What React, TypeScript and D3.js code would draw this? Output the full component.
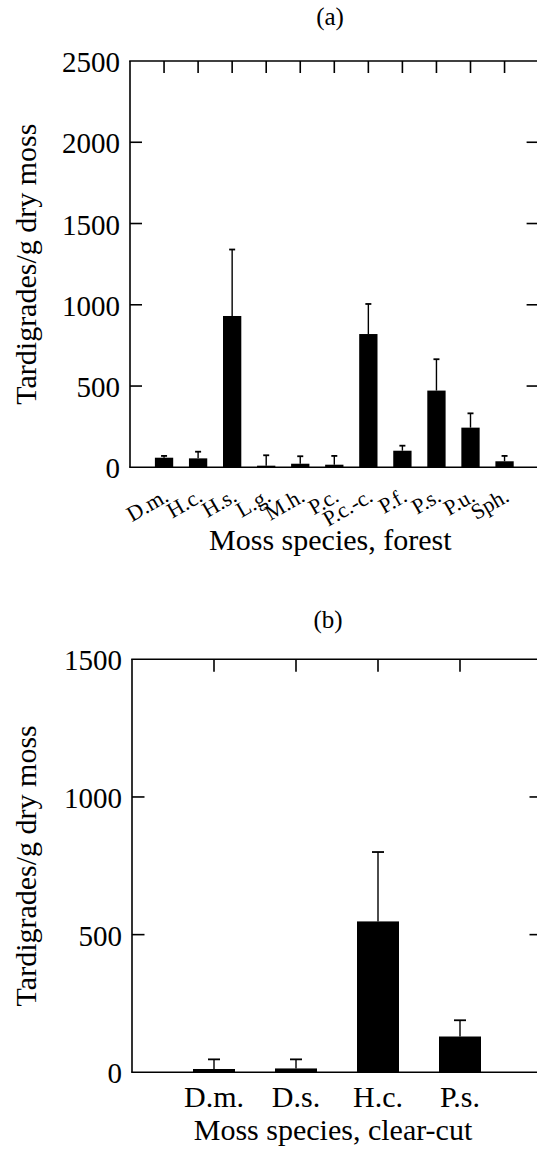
import React from "react";
import * as d3 from "d3";

const forestSpecies = ["D.m.", "H.c.", "H.s.", "L.g.", "M.h.", "P.c.", "P.c.-c.", "P.f.", "P.s.", "P.u.", "Sph."];
const forestMean = [59, 55, 931, 10, 22, 16, 820, 102, 472, 244, 37];
const forestUpper = [70, 96, 1340, 74, 68, 70, 1005, 133, 665, 332, 70];
const forestTicks = [0, 500, 1000, 1500, 2000, 2500];

const clearSpecies = ["D.m.", "D.s.", "H.c.", "P.s."];
const clearMean = [12, 14, 548, 130];
const clearUpper = [47, 47, 800, 189];
const clearTicks = [0, 500, 1000, 1500];

const FONT = "'Liberation Serif', 'Times New Roman', serif";

type PanelProps = {
  species: string[];
  mean: number[];
  upper: number[];
  ticks: number[];
  yMax: number;
  left: number;
  step: number;
  top: number;
  bottom: number;
  barW: number;
  capW: number;
  tickLen: number;
  letter: string;
  letterX: number;
  letterY: number;
  xTitle: string;
  xTitleY: number;
  rotated: boolean;
};

function Panel(p: PanelProps) {
  const n = p.species.length;
  const x = d3.scaleLinear().domain([0, n + 1]).range([p.left, p.left + (n + 1) * p.step]);
  const y = d3.scaleLinear().domain([0, p.yMax]).range([p.bottom, p.top]);
  const right = x(n + 1);
  const sw = 1.6;
  return (
    <g>
      <text x={p.letterX} y={p.letterY} textAnchor="middle" fontSize={25} fontFamily={FONT}>{p.letter}</text>
      {/* frame */}
      <line x1={p.left} x2={p.left} y1={p.top} y2={p.bottom} stroke="#000" strokeWidth={sw} />
      <line x1={right} x2={right} y1={p.top} y2={p.bottom} stroke="#000" strokeWidth={sw} />
      <line x1={p.left - sw / 2} x2={right} y1={p.top} y2={p.top} stroke="#000" strokeWidth={sw} />
      <line x1={p.left - sw / 2} x2={right} y1={p.bottom} y2={p.bottom} stroke="#000" strokeWidth={sw} />
      {/* y ticks */}
      {p.ticks.map((t) => (
        <g key={"t" + t}>
          {t > 0 && t < p.yMax && (
            <>
              <line x1={p.left} x2={p.left + p.tickLen} y1={y(t)} y2={y(t)} stroke="#000" strokeWidth={sw} />
              <line x1={right} x2={right - p.tickLen} y1={y(t)} y2={y(t)} stroke="#000" strokeWidth={sw} />
            </>
          )}
          <text x={p.left - 10} y={y(t) + 11} textAnchor="end" fontSize={29} fontFamily={FONT}>{t}</text>
        </g>
      ))}
      {/* top ticks */}
      {p.species.map((s, i) => (
        <line key={"tt" + s} x1={x(i + 1)} x2={x(i + 1)} y1={p.top} y2={p.top + p.tickLen} stroke="#000" strokeWidth={sw} />
      ))}
      {/* error bars */}
      {p.species.map((s, i) => (
        <g key={"e" + s}>
          <line x1={x(i + 1)} x2={x(i + 1)} y1={y(p.mean[i])} y2={y(p.upper[i])} stroke="#000" strokeWidth={1.4} />
          <line x1={x(i + 1) - p.capW / 2} x2={x(i + 1) + p.capW / 2} y1={y(p.upper[i])} y2={y(p.upper[i])} stroke="#000" strokeWidth={1.8} />
        </g>
      ))}
      {/* bars */}
      {p.species.map((s, i) => (
        <rect key={"b" + s} x={x(i + 1) - p.barW / 2} y={y(p.mean[i])} width={p.barW} height={p.bottom - y(p.mean[i])} fill="#000" />
      ))}
      {/* category labels */}
      {p.species.map((s, i) =>
        p.rotated ? (
          <text key={"l" + s} transform={`translate(${x(i + 1) + 6},${p.bottom + 33}) rotate(-30)`} textAnchor="end" fontSize={22} fontFamily={FONT}>{s}</text>
        ) : (
          <text key={"l" + s} x={x(i + 1)} y={p.bottom + 35} textAnchor="middle" fontSize={30} fontFamily={FONT}>{s}</text>
        )
      )}
      <text x={(p.left + right) / 2 - 4} y={p.xTitleY} textAnchor="middle" fontSize={30} fontFamily={FONT}>{p.xTitle}</text>
      <text transform={`translate(36,${(p.top + p.bottom) / 2}) rotate(-90)`} textAnchor="middle" fontSize={30} fontFamily={FONT}>Tardigrades/g dry moss</text>
    </g>
  );
}

export default function App() {
  return (
    <svg width={537} height={1150} style={{ position: "absolute", left: 0, top: 0, background: "#fff" }}>
      <rect x={0} y={0} width={537} height={1150} fill="#fff" />
      <Panel
        species={forestSpecies}
        mean={forestMean}
        upper={forestUpper}
        ticks={forestTicks}
        yMax={2500}
        left={130}
        step={34.05}
        top={61}
        bottom={467.3}
        barW={18.3}
        capW={6}
        tickLen={12}
        letter="(a)"
        letterX={330}
        letterY={25}
        xTitle="Moss species, forest"
        xTitleY={550}
        rotated={true}
      />
      <Panel
        species={clearSpecies}
        mean={clearMean}
        upper={clearUpper}
        ticks={clearTicks}
        yMax={1500}
        left={132}
        step={82}
        top={659.3}
        bottom={1072.3}
        barW={42}
        capW={12}
        tickLen={12.5}
        letter="(b)"
        letterX={328}
        letterY={628}
        xTitle="Moss species, clear-cut"
        xTitleY={1140}
        rotated={false}
      />
    </svg>
  );
}
